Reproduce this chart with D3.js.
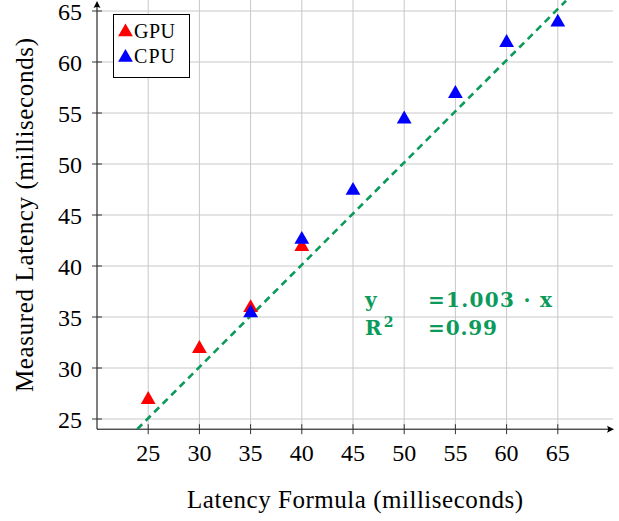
<!DOCTYPE html>
<html><head><meta charset="utf-8">
<script src="https://cdn.jsdelivr.net/npm/d3@7"></script>
<style>body{margin:0;background:#fff}svg{display:block}text{font-family:"Liberation Serif","DejaVu Serif",serif}
text.ann{font-family:"DejaVu Serif",serif;font-weight:bold}</style>
</head><body>
<svg id="c" width="619" height="521"></svg>
<script>
const xTicks = [25,30,35,40,45,50,55,60,65];
const yTicks = [25,30,35,40,45,50,55,60,65];
const gpuX = [25,30,35,40];
const gpuY = [27,32,36,42];
const cpuX = [35,40,45,50,55,60,65];
const cpuY = [35.5,42.7,47.5,54.5,57,62,64];
const slope = 1.003;
const r2 = "0.99";
const seriesNames = ["GPU","CPU"];
const seriesColors = ["#ff0000","#0000ff"];
const fitColor = "#0b9a5a";

const svg = d3.select("#c");
const x = d3.scaleLinear().domain([20,70]).range([97,609]);
const y = d3.scaleLinear().domain([25,65]).range([419,11]);
const yMin = 24, yMax = 66;
const gridColor = "#c8c8c8";

// grid
svg.append("g").selectAll("line").data(xTicks).join("line")
  .attr("x1",d=>x(d)).attr("x2",d=>x(d)).attr("y1",y(yMin)).attr("y2",0)
  .attr("stroke",gridColor).attr("stroke-width",1);
svg.append("g").selectAll("line").data(yTicks).join("line")
  .attr("x1",x(20)).attr("x2",613).attr("y1",d=>y(d)).attr("y2",d=>y(d))
  .attr("stroke",gridColor).attr("stroke-width",1);

// axes
const ax = svg.append("g");
ax.append("line").attr("x1",x(20)).attr("x2",611).attr("y1",y(yMin)).attr("y2",y(yMin)).attr("stroke","#000").attr("stroke-width",1);
ax.append("line").attr("x1",x(20)).attr("x2",x(20)).attr("y1",y(yMin)).attr("y2",3).attr("stroke","#000").attr("stroke-width",1);
ax.append("path").attr("d",`M${614},${y(yMin)} l-7,-3.5 q2,3.5 0,7 z`).attr("fill","#000");
ax.append("path").attr("d",`M${x(20)},1 l-3.5,7 q3.5,-2 7,0 z`).attr("fill","#000");
// ticks
ax.selectAll(".xt").data(xTicks).join("line").attr("class","xt")
  .attr("x1",d=>x(d)).attr("x2",d=>x(d)).attr("y1",y(yMin)-5).attr("y2",y(yMin)+5).attr("stroke","#333");
ax.selectAll(".yt").data(yTicks).join("line").attr("class","yt")
  .attr("y1",d=>y(d)).attr("y2",d=>y(d)).attr("x1",x(20)-5).attr("x2",x(20)+5).attr("stroke","#333");
ax.selectAll(".xl").data(xTicks).join("text").attr("class","xl")
  .attr("x",d=>x(d)).attr("y",461).attr("text-anchor","middle").attr("font-size",24).text(d=>d);
ax.selectAll(".yl").data(yTicks).join("text").attr("class","yl")
  .attr("x",82).attr("y",d=>y(d)+8.5).attr("text-anchor","end").attr("font-size",24).text(d=>d);

svg.append("text").attr("x",187).attr("y",508).attr("font-size",25)
  .attr("textLength",336).attr("lengthAdjust","spacing")
  .text("Latency Formula (milliseconds)");
svg.append("text").attr("transform","translate(33,392) rotate(-90)").attr("font-size",25)
  .attr("textLength",354).attr("lengthAdjust","spacing")
  .text("Measured Latency (milliseconds)");

// fit line
svg.append("defs").append("clipPath").attr("id","clip").append("rect")
  .attr("x",x(20)).attr("y",0).attr("width",520).attr("height",y(yMin));
svg.append("line").attr("clip-path","url(#clip)")
  .attr("x1",x(yMin/slope)).attr("y1",y(yMin)).attr("x2",x(yMax/slope)).attr("y2",y(yMax))
  .attr("stroke",fitColor).attr("stroke-width",2.6).attr("stroke-dasharray","7,5");

// markers
const tri = d3.symbol().type(d3.symbolTriangle).size(95);
function drawSeries(xs, ys, color){
  svg.append("g").selectAll("path").data(xs.map((v,i)=>[v,ys[i]])).join("path")
    .attr("d",tri).attr("transform",d=>`translate(${x(d[0])},${y(d[1])+1})`).attr("fill",color);
}
drawSeries(gpuX,gpuY,seriesColors[0]);
drawSeries(cpuX,cpuY,seriesColors[1]);

// legend
const lg = svg.append("g");
lg.append("rect").attr("x",113.5).attr("y",14.5).attr("width",76).attr("height",63).attr("fill","#fff").attr("stroke","#000");
seriesNames.forEach((n,i)=>{
  lg.append("path").attr("d",tri).attr("transform",`translate(125.5,${32+i*25.5})`).attr("fill",seriesColors[i]);
  lg.append("text").attr("x",134).attr("y",37.5+i*25.5).attr("font-size",20)
    .attr("textLength",41).attr("lengthAdjust","spacing").text(n);
});

// annotation
const an = svg.append("g").attr("fill",fitColor);
an.append("text").attr("class","ann").attr("font-size",20).attr("x",365).attr("y",307).text("y");
an.append("text").attr("class","ann").attr("font-size",20).attr("x",428).attr("y",307)
  .attr("textLength",124).attr("lengthAdjust","spacing")
  .text("=" + slope.toFixed(3) + " · x");
const rt = an.append("text").attr("class","ann").attr("font-size",20).attr("x",365).attr("y",335);
rt.append("tspan").text("R");
rt.append("tspan").attr("dx",2).attr("dy",-8).attr("font-size",14).text("2");
an.append("text").attr("class","ann").attr("font-size",20).attr("x",428).attr("y",335)
  .attr("textLength",69).attr("lengthAdjust","spacing")
  .text("=" + r2);
</script>
</body></html>
